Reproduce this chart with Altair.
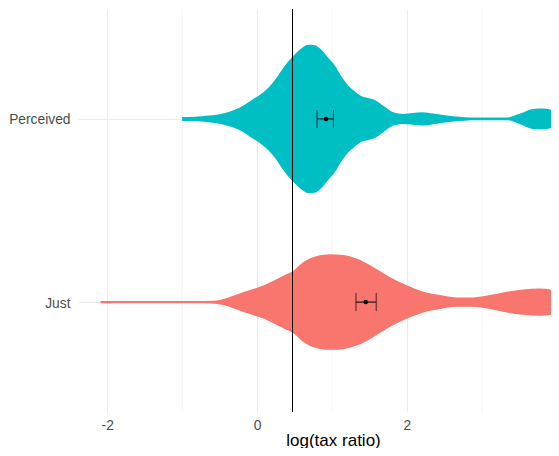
import altair as alt
import pandas as pd

# Violin outlines: x position (log tax ratio) and half-width (pixels, at 183 px per category step)
perc_x = [-1.00, -0.83, -0.65, -0.43, -0.29, -0.20, -0.07, 0.07, 0.16, 0.24, 0.37, 0.46,
          0.57, 0.68, 0.77, 0.86, 0.95, 1.04, 1.12, 1.21, 1.30, 1.39, 1.48, 1.57, 1.69,
          1.82, 1.95, 2.08, 2.21, 2.35, 2.62, 2.93, 3.33, 3.51, 3.68, 3.82, 3.95]
perc_hw_px = [2.0, 2.2, 3.3, 6.0, 9.3, 12.7, 19.0, 26.0, 32.0, 39.0, 53.0, 61.0,
              69.0, 74.0, 73.7, 69.0, 61.0, 53.0, 43.0, 34.0, 28.0, 23.0, 21.0, 19.0, 13.0,
              6.7, 5.0, 5.8, 6.7, 5.3, 2.7, 1.3, 1.3, 5.3, 10.0, 10.3, 8.5]

just_x = [-2.09, -1.50, -0.82, -0.60, -0.47, -0.38, -0.29, -0.16, -0.03, 0.10, 0.24, 0.37,
          0.48, 0.62, 0.80, 0.97, 1.15, 1.32, 1.55, 1.77, 1.99, 2.22, 2.44, 2.66, 2.88,
          3.11, 3.33, 3.55, 3.77, 4.00, 4.10]
just_hw_px = [1.1, 1.1, 1.1, 1.3, 2.7, 4.5, 7.0, 10.5, 13.7, 17.0, 22.0, 27.0,
              31.0, 40.0, 46.0, 47.7, 47.0, 43.7, 35.0, 25.0, 17.0, 10.3, 7.0, 4.7, 4.7,
              7.0, 10.3, 12.7, 13.7, 11.3, 9.0]

PX_PER_UNIT = 183.0

groups = ["Just", "Perceived"]
group_pos = [1, 2]
colors = ["#F8766D", "#00BFC4"]

means = [1.45, 0.92]
ci_lo = [1.32, 0.80]
ci_hi = [1.59, 1.02]

ref_line = 0.473

major_ticks = [-2, 0, 2, 4]
minor_ticks = [-1, 1, 3]

rows = []
for g, pos, xs, hws in [("Perceived", 2, perc_x, perc_hw_px), ("Just", 1, just_x, just_hw_px)]:
    for x, hw in zip(xs, hws):
        h = hw / PX_PER_UNIT
        rows.append({"group": g, "x": x, "ytop": pos + h, "ybot": pos - h})
violin_df = pd.DataFrame(rows)

stats_df = pd.DataFrame({"group": groups, "pos": group_pos, "mean": means,
                         "lo": ci_lo, "hi": ci_hi})
ref_df = pd.DataFrame({"x": [ref_line]})
minor_df = pd.DataFrame({"x": minor_ticks})

xscale = alt.Scale(domain=[-2.39, 3.923], nice=False, zero=False)
yscale = alt.Scale(domain=[0.4, 2.6], nice=False, zero=False)

FONT = "Liberation Sans"

xaxis = alt.Axis(values=major_ticks,
                 labelExpr="datum.value < 0 ? '-' + abs(datum.value) : '' + datum.value",
                 title="log(tax ratio)", ticks=False, domain=False, tickSize=0,
                 labelPadding=6, labelFlush=False, labelOverlap=False,
                 labelFontSize=13.8, labelColor="#4D4D4D", labelFont=FONT,
                 titleFontSize=17, titleColor="#000000", titleFont=FONT,
                 titleFontWeight="normal", titleX=255, titleY=33,
                 titleBaseline="alphabetic", titleAlign="center", titleAnchor="start",
                 grid=True, gridColor="#EBEBEB", gridWidth=1.1)
yaxis = alt.Axis(values=group_pos,
                 labelExpr="datum.value == 2 ? 'Perceived' : 'Just'",
                 title=None, ticks=False, domain=False, tickSize=0,
                 labelPadding=8, labelFontSize=13.8, labelColor="#4D4D4D",
                 labelOffset=1,
                 labelFont=FONT, grid=True, gridColor="#EBEBEB", gridWidth=1.1)

minor = alt.Chart(minor_df).mark_rule(color="#EBEBEB", strokeWidth=0.55).encode(
    x=alt.X("x:Q", scale=xscale, axis=xaxis)
)

violins = alt.Chart(violin_df).mark_area(orient="vertical", interpolate="monotone", clip=True).encode(
    x=alt.X("x:Q", scale=xscale, axis=xaxis),
    y=alt.Y("ytop:Q", scale=yscale, axis=yaxis),
    y2="ybot:Q",
    color=alt.Color("group:N", scale=alt.Scale(domain=groups, range=colors), legend=None),
)

ref = alt.Chart(ref_df).mark_rule(color="#000000", strokeWidth=1).encode(
    x=alt.X("x:Q", scale=xscale, axis=xaxis)
)

bars = alt.Chart(stats_df).mark_rule(color="#000000", strokeWidth=1).encode(
    x=alt.X("lo:Q", scale=xscale, axis=xaxis),
    x2="hi:Q",
    y=alt.Y("pos:Q", scale=yscale, axis=yaxis),
)
cap_lo = alt.Chart(stats_df).mark_tick(orient="vertical", size=18, thickness=1, color="#000000").encode(
    x=alt.X("lo:Q", scale=xscale, axis=xaxis),
    y=alt.Y("pos:Q", scale=yscale, axis=yaxis),
)
cap_hi = alt.Chart(stats_df).mark_tick(orient="vertical", size=18, thickness=1, color="#000000").encode(
    x=alt.X("hi:Q", scale=xscale, axis=xaxis),
    y=alt.Y("pos:Q", scale=yscale, axis=yaxis),
)
points = alt.Chart(stats_df).mark_circle(size=20, color="#000000", opacity=1).encode(
    x=alt.X("mean:Q", scale=xscale, axis=xaxis),
    y=alt.Y("pos:Q", scale=yscale, axis=yaxis),
)

chart = alt.layer(minor, violins, ref, bars, cap_lo, cap_hi, points).properties(
    width=473, height=403,
    autosize=alt.AutoSizeParams(type="none"),
    padding={"left": 70, "top": 1, "right": 0, "bottom": 36},
    background="#FFFFFF",
).configure_view(stroke=None)

chart.save("out.html", embed_options={"renderer": "svg", "actions": False})
